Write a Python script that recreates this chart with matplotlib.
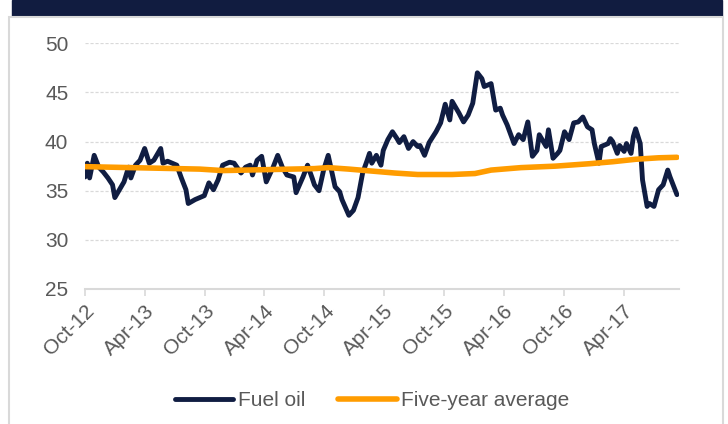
import numpy as np
import pandas as pd
import matplotlib
matplotlib.use("Agg")
import matplotlib.pyplot as plt
from matplotlib.patches import Rectangle

plt.rcParams['font.family'] = ['Liberation Sans', 'DejaVu Sans']

start = pd.Timestamp('2012-10-01')

# fuel oil, weeks since start -> value
fuel_weeks = [0, 1, 2, 4, 6, 8, 10, 12, 13, 15, 17, 19, 20, 22, 24, 26, 28, 30, 33, 34,
              36, 38, 40, 42, 44, 45, 48, 50, 52, 54, 56, 58, 60, 63, 65, 68, 70, 72, 73, 75,
              77, 79, 82, 84, 86, 88, 91, 92, 95, 97, 99, 100, 102, 104, 106, 109, 111, 112, 115, 117,
              119, 121, 123, 124, 125, 127, 129, 130, 132, 134, 136, 137, 139, 141, 143, 145, 146, 148, 150, 153,
              155, 157, 159, 160, 163, 165, 167, 169, 171, 173, 174, 177, 179, 181, 182, 184, 187, 189, 191, 193,
              195, 197, 198, 201, 202, 204, 206, 207, 209, 211, 213, 215, 217, 219, 221, 222, 224, 225, 228, 229,
              230, 232, 233, 235, 236, 238, 239, 240, 242, 243, 245, 246, 248, 250, 252, 254, 255, 256, 258]
fuel_vals = [36.4, 37.8, 36.3, 38.6, 37.4, 36.9, 36.3, 35.6, 34.3, 35.1, 35.9, 37.4, 36.3, 37.6, 38.1, 39.3, 37.8, 38.1, 39.3, 37.8,
             38.0, 37.8, 37.6, 36.3, 35.1, 33.7, 34.1, 34.3, 34.5, 35.8, 35.1, 36.1, 37.6, 37.9, 37.8, 36.8, 37.4, 37.6, 36.6, 38.1,
             38.5, 35.9, 37.4, 38.6, 37.4, 36.6, 36.4, 34.8, 36.4, 37.6, 36.3, 35.6, 35.0, 37.1, 38.6, 35.4, 34.9, 34.1, 32.5, 33.0,
             34.3, 36.8, 38.1, 38.8, 37.8, 38.6, 37.6, 39.1, 40.2, 41.0, 40.3, 39.9, 40.5, 39.3, 40.0, 39.5, 39.6, 38.6, 39.9, 41.0,
             41.9, 43.8, 42.2, 44.1, 42.9, 42.0, 42.7, 43.9, 47.0, 46.4, 45.6, 45.9, 43.2, 43.4, 42.7, 41.7, 39.8, 40.7, 40.2, 42.0,
             38.5, 39.1, 40.7, 39.5, 41.2, 38.3, 38.8, 39.1, 41.0, 40.2, 41.9, 42.0, 42.5, 41.5, 41.2, 39.8, 37.8, 39.5, 39.8, 40.3,
             40.0, 38.8, 39.6, 39.0, 39.8, 38.8, 40.5, 41.3, 39.8, 36.1, 33.4, 33.7, 33.4, 35.1, 35.6, 37.1, 36.4, 35.8, 34.6]

avg_weeks = [0, 20, 50, 60, 80, 100, 106, 115, 125, 135, 145, 160, 170, 177, 190, 205, 220, 230, 240, 250, 258]
avg_vals = [37.45, 37.35, 37.2, 37.05, 37.15, 37.25, 37.35, 37.2, 37.0, 36.8, 36.65, 36.65, 36.75, 37.1, 37.35,
            37.5, 37.75, 37.95, 38.2, 38.35, 38.4]

tick_labels = ['Oct-12', 'Apr-13', 'Oct-13', 'Apr-14', 'Oct-14', 'Apr-15', 'Oct-15', 'Apr-16', 'Oct-16', 'Apr-17']

fuel_dates = start + pd.to_timedelta(np.array(fuel_weeks) * 7, unit='D')
avg_dates = start + pd.to_timedelta(np.array(avg_weeks) * 7, unit='D')
tick_dates = [pd.Timestamp(start.year + (start.month - 1 + 6 * i) // 12,
                           (start.month - 1 + 6 * i) % 12 + 1, 1) for i in range(len(tick_labels))]

navy = '#101d42'
orange = '#ff9c00'
grey = '#595959'
light = '#d9d9d9'

fig = plt.figure(figsize=(7.28, 4.24), dpi=100)
fig.patch.set_facecolor('white')

# header band and panel border
fig.patches.append(Rectangle((12 / 728, 1 - 16 / 424), 710 / 728, 16 / 424,
                             transform=fig.transFigure, color='#111c40', zorder=0))
fig.patches.append(Rectangle((9 / 728, -0.05), 714 / 728, 1.05 - 17 / 424,
                             transform=fig.transFigure, fill=False, edgecolor=light, lw=1.5, zorder=0))

ax = fig.add_axes([85 / 728, 1 - 289 / 424, 594 / 728, 245.7 / 424])

ax.plot(fuel_dates, fuel_vals, color=navy, lw=3.5, solid_joinstyle='round',
        solid_capstyle='round', label='Fuel oil', zorder=3)
ax.plot(avg_dates, avg_vals, color=orange, lw=4.0, solid_capstyle='round', label='Five-year average', zorder=4)

ax.set_ylim(25, 50)
ax.set_yticks([25, 30, 35, 40, 45, 50])
ax.set_xlim(start, start + pd.Timedelta(days=258.9 * 7))
ax.set_xticks(tick_dates)
ax.set_xticklabels(tick_labels, rotation=45, ha='right', va='top', rotation_mode='anchor')

for v in [30, 35, 40, 45, 50]:
    ax.axhline(v, color=light, lw=0.9, ls=(0, (2.5, 1.5)), zorder=1)

for s in ['top', 'right', 'left']:
    ax.spines[s].set_visible(False)
ax.spines['bottom'].set_color(light)
ax.spines['bottom'].set_linewidth(1.5)

ax.tick_params(axis='y', length=0, pad=12, labelsize=15, labelcolor=grey)
ax.tick_params(axis='x', length=5, width=1.2, color=light, pad=4, labelsize=15, labelcolor=grey)

fig.legend(loc='center', bbox_to_anchor=(372 / 728, 1 - 401 / 424), ncol=2, frameon=False,
           fontsize=15, labelcolor=grey, handlelength=2.8, handletextpad=0.2, columnspacing=1.6)

fig.savefig('out.png', dpi=100)
